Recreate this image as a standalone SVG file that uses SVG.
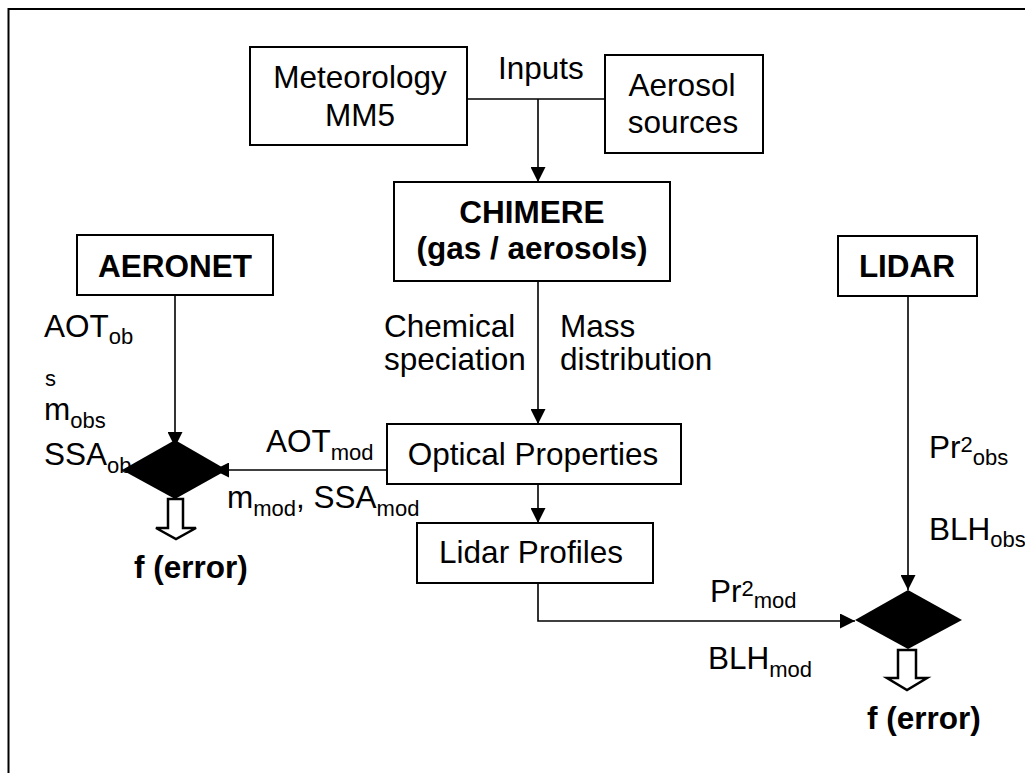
<svg xmlns="http://www.w3.org/2000/svg" width="1025" height="773" viewBox="0 0 1025 773">
<style>
text{font-family:"Liberation Sans",Arial,sans-serif;font-size:31.5px;fill:#000}
.b{font-weight:bold}
.s{font-size:22px}
.box{fill:#fff;stroke:#000;stroke-width:2}
.ln{fill:none;stroke:#000;stroke-width:1.6}
.dm{fill:#000;stroke:none}
.blk{fill:#fff;stroke:#000;stroke-width:2.5}
</style>
<defs>
<marker id="arr" viewBox="0 0 15 15" refX="15" refY="7.5" markerWidth="15" markerHeight="15" markerUnits="userSpaceOnUse" orient="auto">
<path d="M0,0 L15,7.5 L0,15 z" fill="#000"/>
</marker>
</defs>
<rect width="1025" height="773" fill="#fff"/>
<path d="M8.5,773 V9 H1025" fill="none" stroke="#000" stroke-width="2"/>
<g id="labels">
<text x="498" y="79">Inputs</text>
<text x="384" y="337">Chemical</text>
<text x="384" y="370">speciation</text>
<text x="560" y="337">Mass</text>
<text x="560" y="370">distribution</text>
<text x="44" y="337">AOT<tspan class="s" y="344">ob</tspan></text>
<text x="45" y="386" class="s">s</text>
<text x="44" y="420">m<tspan class="s" y="428">obs</tspan></text>
<text x="44" y="465">SSA<tspan class="s" y="473">ob</tspan></text>
<text x="266" y="452">AOT<tspan class="s" y="460">mod</tspan></text>
<text x="227" y="508">m<tspan class="s" y="516">mod</tspan><tspan y="508">, SSA</tspan><tspan class="s" y="516">mod</tspan></text>
<text x="929" y="458">Pr<tspan class="s" y="452">2</tspan><tspan class="s" y="465">obs</tspan></text>
<text x="929" y="540">BLH<tspan class="s" y="547">obs</tspan></text>
<text x="710" y="602">Pr<tspan class="s" y="596">2</tspan><tspan class="s" y="608">mod</tspan></text>
<text x="708" y="669">BLH<tspan class="s" y="677">mod</tspan></text>
<text x="134" y="578" class="b">f (error)</text>
<text x="867" y="729" class="b">f (error)</text>
</g>
<g id="connectors">
<path class="ln" d="M467,99 H605"/>
<path class="ln" d="M538,99 V182" marker-end="url(#arr)"/>
<path class="ln" d="M538,281 V424" marker-end="url(#arr)"/>
<path class="ln" d="M538,484 V523" marker-end="url(#arr)"/>
<path class="ln" d="M175,295 V447" marker-end="url(#arr)"/>
<path class="ln" d="M387,470 H214" marker-end="url(#arr)"/>
<path class="ln" d="M538,583 V621 H855" marker-end="url(#arr)"/>
<path class="ln" d="M908,296 V590" marker-end="url(#arr)"/>
</g>
<g id="meteorology">
<rect class="box" x="250" y="47" width="217" height="98"/>
<text x="360" y="88" text-anchor="middle">Meteorology</text>
<text x="360" y="126" text-anchor="middle">MM5</text>
</g>
<g id="aerosol-sources">
<rect class="box" x="605" y="55" width="158" height="98"/>
<text x="682" y="96" text-anchor="middle">Aerosol</text>
<text x="683" y="133" text-anchor="middle">sources</text>
</g>
<g id="chimere">
<rect class="box" x="394" y="182" width="276" height="99"/>
<text x="532" y="223" text-anchor="middle" class="b">CHIMERE</text>
<text x="532" y="259" text-anchor="middle" class="b">(gas / aerosols)</text>
</g>
<g id="aeronet">
<rect class="box" x="77" y="235" width="196" height="60"/>
<text x="175" y="277" text-anchor="middle" class="b">AERONET</text>
</g>
<g id="lidar">
<rect class="box" x="838" y="236" width="139" height="60"/>
<text x="907" y="277" text-anchor="middle" class="b">LIDAR</text>
</g>
<g id="optical-properties">
<rect class="box" x="387" y="424" width="294" height="60"/>
<text x="533" y="465" text-anchor="middle">Optical Properties</text>
</g>
<g id="lidar-profiles">
<rect class="box" x="417" y="523" width="236" height="60"/>
<text x="531" y="563" text-anchor="middle">Lidar Profiles</text>
</g>
<g id="compare-aeronet">
<polygon class="dm" points="175,440 227,470 175,499 122,470"/>
<polygon class="blk" points="168,499 183,499 183,528 196,528 176,539 156,528 168,528"/>
</g>
<g id="compare-lidar">
<polygon class="dm" points="908,590 962,620 908,649 855,620"/>
<polygon class="blk" points="898,650 916,650 916,678 927,678 907,690 887,678 898,678"/>
</g>
</svg>
